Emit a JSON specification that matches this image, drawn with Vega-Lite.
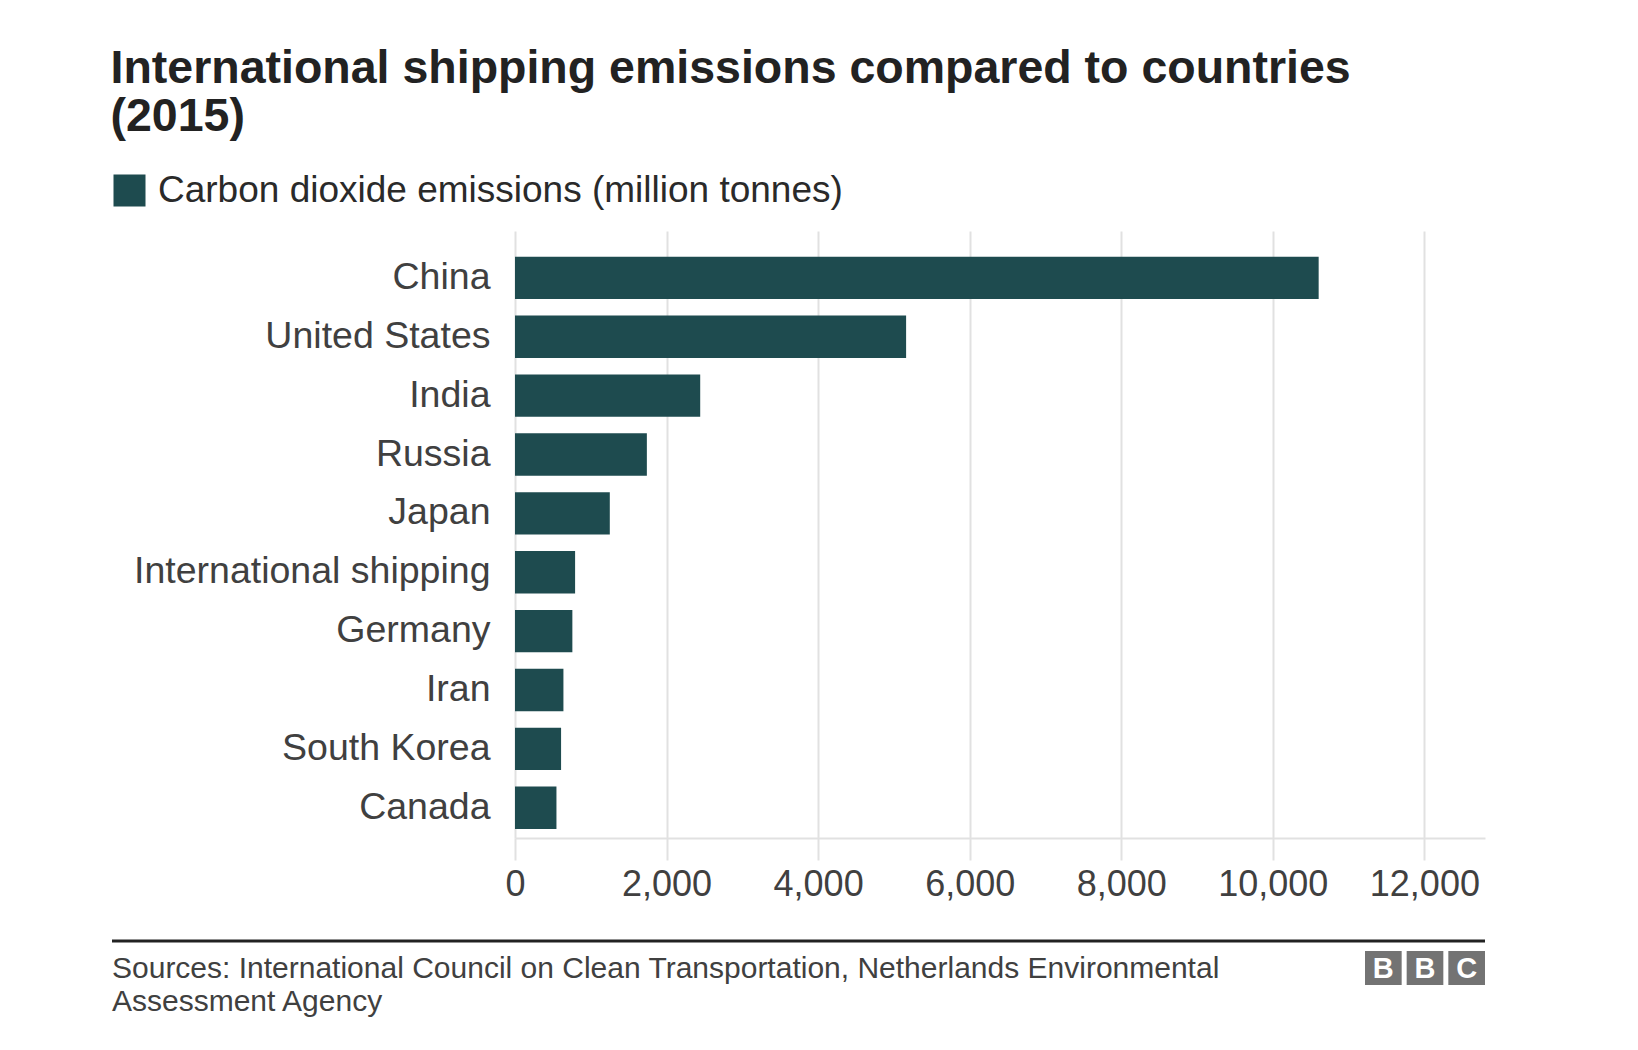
{
  "$schema": "https://vega.github.io/schema/vega-lite/v6.json",
  "background": "white",
  "padding": {"left": 110, "top": 45, "right": 20, "bottom": 10},
  "title": {
    "text": ["International shipping emissions compared to countries", "(2015)"],
    "anchor": "start",
    "font": "Liberation Sans",
    "fontSize": 46.5,
    "fontWeight": "bold",
    "lineHeight": 48,
    "color": "#222222",
    "offset": 32
  },
  "spacing": 37,
  "resolve": {"scale": {"color": "independent"}, "legend": {"color": "independent"}},
  "vconcat": [
    {
      "width": 970,
      "height": 607,
      "data": {
        "values": [
          {"country": "China", "co2": 10605},
          {"country": "United States", "co2": 5161},
          {"country": "India", "co2": 2444},
          {"country": "Russia", "co2": 1740},
          {"country": "Japan", "co2": 1251},
          {"country": "International shipping", "co2": 793},
          {"country": "Germany", "co2": 757},
          {"country": "Iran", "co2": 639},
          {"country": "South Korea", "co2": 608},
          {"country": "Canada", "co2": 547}
        ]
      },
      "mark": {"type": "bar"},
      "encoding": {
        "y": {
          "field": "country",
          "type": "nominal",
          "sort": null,
          "scale": {"paddingInner": 0.28, "paddingOuter": 0.295, "align": 0.74},
          "axis": {
            "title": null,
            "domain": false,
            "ticks": false,
            "labelPadding": 25,
            "labelFontSize": 37.5,
            "labelColor": "#404040",
            "labelLimit": 600
          }
        },
        "x": {
          "field": "co2",
          "type": "quantitative",
          "scale": {"domain": [0, 12800], "nice": false},
          "axis": {
            "title": null,
            "values": [0, 2000, 4000, 6000, 8000, 10000, 12000],
            "format": ",d",
            "grid": true,
            "gridColor": "#e1e1e1",
            "gridWidth": 2,
            "domainColor": "#e1e1e1",
            "domainWidth": 2,
            "tickColor": "#e1e1e1",
            "tickWidth": 2,
            "tickSize": 22,
            "labelPadding": 7,
            "labelFontSize": 36,
            "labelColor": "#404040",
            "labelFlush": false
          }
        },
        "color": {
          "datum": "Carbon dioxide emissions (million tonnes)",
          "scale": {"range": ["#1e4b4f"]},
          "legend": {
            "title": null,
            "orient": "none",
            "legendX": -404,
            "legendY": -59,
            "padding": 0,
            "symbolType": "square",
            "symbolSize": 1024,
            "symbolStrokeWidth": 0,
            "labelFontSize": 37,
            "labelColor": "#2a2a2a",
            "labelOffset": 10,
            "labelLimit": 900
          }
        }
      }
    },
    {
      "width": 970,
      "height": 70,
      "layer": [
        {
          "data": {"values": [{"kind": "divider"}]},
          "mark": {"type": "rule", "color": "#222222", "strokeWidth": 3},
          "encoding": {"x": {"value": -403}, "x2": {"value": 970}, "y": {"value": 0}}
        },
        {
          "data": {"values": [{"source": "Sources: International Council on Clean Transportation, Netherlands Environmental\nAssessment Agency"}]},
          "mark": {
            "type": "text",
            "align": "left",
            "baseline": "top",
            "fontSize": 30,
            "lineHeight": 33,
            "lineBreak": "\n",
            "color": "#404040"
          },
          "encoding": {
            "text": {"field": "source"},
            "x": {"value": -403},
            "y": {"value": 13}
          }
        },
        {
          "data": {"values": [{"box": "B1", "letter": "B"}, {"box": "B2", "letter": "B"}, {"box": "C", "letter": "C"}]},
          "layer": [
            {
              "mark": {"type": "rect", "color": "#737373"},
              "encoding": {
                "x": {
                  "field": "box",
                  "type": "nominal",
                  "axis": null,
                  "scale": {"domain": ["B1", "B2", "C"], "range": [850, 970], "paddingInner": 0.12, "paddingOuter": 0}
                },
                "y": {"value": 10},
                "y2": {"value": 44}
              }
            },
            {
              "mark": {"type": "text", "color": "white", "fontSize": 29, "fontWeight": "bold", "baseline": "middle"},
              "encoding": {
                "x": {"field": "box", "type": "nominal", "axis": null, "bandPosition": 0.5},
                "y": {"value": 28},
                "text": {"field": "letter"}
              }
            }
          ]
        }
      ]
    }
  ],
  "config": {
    "font": "Liberation Sans",
    "view": {"stroke": null}
  }
}
